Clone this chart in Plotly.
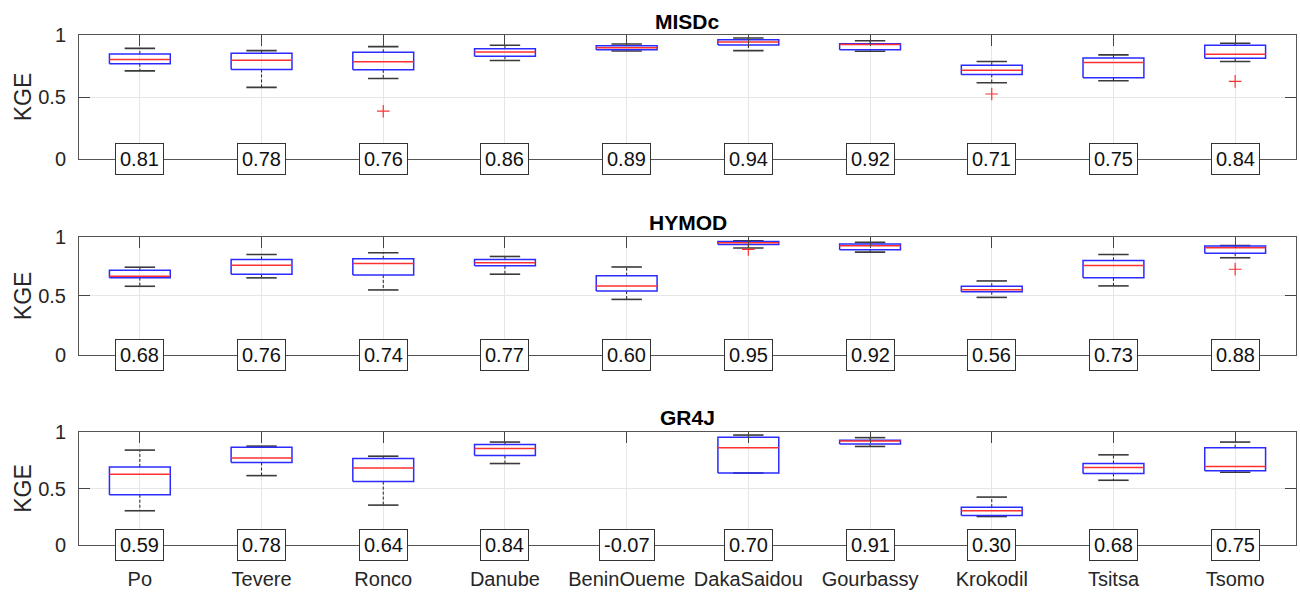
import plotly.graph_objects as go

cats = ["Po", "Tevere", "Ronco", "Danube", "BeninOueme", "DakaSaidou",
        "Gourbassy", "Krokodil", "Tsitsa", "Tsomo"]
models = ["MISDc", "HYMOD", "GR4J"]

# MISDc box statistics
misdc_upper = [0.890, 0.872, 0.904, 0.915, 0.925, 0.973, 0.952, 0.785, 0.838, 0.931]
misdc_q3    = [0.845, 0.851, 0.859, 0.888, 0.912, 0.960, 0.928, 0.755, 0.814, 0.915]
misdc_med   = [0.800, 0.795, 0.782, 0.862, 0.895, 0.941, 0.922, 0.715, 0.777, 0.843]
misdc_q1    = [0.767, 0.721, 0.718, 0.827, 0.880, 0.917, 0.880, 0.681, 0.654, 0.811]
misdc_lower = [0.710, 0.577, 0.649, 0.793, 0.869, 0.872, 0.867, 0.614, 0.630, 0.785]
misdc_out   = [[], [], [0.386], [], [], [], [], [0.524], [], [0.625]]
misdc_kge   = [0.81, 0.78, 0.76, 0.86, 0.89, 0.94, 0.92, 0.71, 0.75, 0.84]

# HYMOD box statistics
hymod_upper = [0.742, 0.850, 0.864, 0.833, 0.744, 0.966, 0.952, 0.626, 0.850, 0.926]
hymod_q3    = [0.717, 0.807, 0.813, 0.807, 0.670, 0.960, 0.938, 0.581, 0.799, 0.921]
hymod_med   = [0.666, 0.759, 0.773, 0.779, 0.583, 0.949, 0.924, 0.552, 0.756, 0.907]
hymod_q1    = [0.654, 0.683, 0.677, 0.754, 0.541, 0.935, 0.890, 0.535, 0.652, 0.861]
hymod_lower = [0.581, 0.652, 0.550, 0.683, 0.470, 0.904, 0.870, 0.487, 0.584, 0.822]
hymod_out   = [[], [], [], [], [], [0.893], [], [], [], [0.725]]
hymod_kge   = [0.68, 0.76, 0.74, 0.77, 0.60, 0.95, 0.92, 0.56, 0.73, 0.88]

# GR4J box statistics (BeninOueme lies below the plotted range)
gr4j_upper = [0.840, 0.875, 0.786, 0.911, None, 0.973, 0.950, 0.424, 0.798, 0.911]
gr4j_q3    = [0.691, 0.864, 0.766, 0.890, None, 0.953, 0.926, 0.335, 0.721, 0.861]
gr4j_med   = [0.626, 0.769, 0.682, 0.855, None, 0.861, 0.920, 0.303, 0.685, 0.694]
gr4j_q1    = [0.445, 0.730, 0.561, 0.792, None, 0.637, 0.893, 0.261, 0.632, 0.656]
gr4j_lower = [0.303, 0.614, 0.353, 0.721, None, 0.637, 0.872, 0.252, 0.573, 0.644]
gr4j_out   = [[], [], [], [], [], [], [], [], [], []]
gr4j_kge   = [0.59, 0.78, 0.64, 0.84, -0.07, 0.70, 0.91, 0.30, 0.68, 0.75]

panels = [
    (misdc_upper, misdc_q3, misdc_med, misdc_q1, misdc_lower, misdc_out, misdc_kge),
    (hymod_upper, hymod_q3, hymod_med, hymod_q1, hymod_lower, hymod_out, hymod_kge),
    (gr4j_upper, gr4j_q3, gr4j_med, gr4j_q1, gr4j_lower, gr4j_out, gr4j_kge),
]

H = 593.0
# panel pixel extents (top, bottom) of the axes
pix = [(34.7, 159.3), (236.7, 355.0), (432.0, 545.0)]
title_y = [21, 222, 417]

FONT = "Liberation Sans, Arial, sans-serif"
fig = go.Figure()

BW = 0.25   # half box width
CW = 0.125  # half cap width

for p, (up, q3, med, q1, lo, outs, kge) in enumerate(panels):
    xa = "x" if p == 0 else f"x{p+1}"
    ya = "y" if p == 0 else f"y{p+1}"
    bx, by, mx, my, wx, wy, cx, cy, ox, oy = [], [], [], [], [], [], [], [], [], []
    for i in range(len(cats)):
        pos = i + 1
        for o in outs[i]:
            ox.append(pos); oy.append(o)
        if med[i] is None:
            continue
        bx += [pos - BW, pos + BW, pos + BW, pos - BW, pos - BW, None]
        by += [q1[i], q1[i], q3[i], q3[i], q1[i], None]
        mx += [pos - BW, pos + BW, None]
        my += [med[i], med[i], None]
        wx += [pos, pos, None, pos, pos, None]
        wy += [q3[i], up[i], None, q1[i], lo[i], None]
        cx += [pos - CW, pos + CW, None, pos - CW, pos + CW, None]
        cy += [up[i], up[i], None, lo[i], lo[i], None]
    fig.add_trace(go.Scatter(x=wx, y=wy, mode="lines", xaxis=xa, yaxis=ya,
                             line=dict(color="#222222", width=1, dash="3px,2px"),
                             showlegend=False, hoverinfo="skip"))
    fig.add_trace(go.Scatter(x=cx, y=cy, mode="lines", xaxis=xa, yaxis=ya,
                             line=dict(color="#3a3a3a", width=1.6),
                             showlegend=False, hoverinfo="skip"))
    fig.add_trace(go.Scatter(x=bx, y=by, mode="lines", xaxis=xa, yaxis=ya,
                             line=dict(color="#2b2bff", width=1.5),
                             showlegend=False, hoverinfo="skip"))
    fig.add_trace(go.Scatter(x=mx, y=my, mode="lines", xaxis=xa, yaxis=ya,
                             line=dict(color="#ff3030", width=1.5),
                             showlegend=False, hoverinfo="skip"))
    fig.add_trace(go.Scatter(x=ox, y=oy, mode="markers", xaxis=xa, yaxis=ya,
                             marker=dict(symbol="cross-thin", size=9,
                                         line=dict(color="#ff3030", width=1.2)),
                             showlegend=False, hoverinfo="skip"))

    top, bot = pix[p]
    dom = [1 - bot / H, 1 - top / H]
    axis_common = dict(showline=True, linecolor="#555555", linewidth=1,
                       mirror="ticks", ticks="inside", ticklen=11,
                       tickcolor="#444444", showgrid=True, gridcolor="#e6e6e6",
                       gridwidth=1, zeroline=False)
    xkey = "xaxis" if p == 0 else f"xaxis{p+1}"
    ykey = "yaxis" if p == 0 else f"yaxis{p+1}"
    fig.update_layout(**{
        xkey: dict(axis_common, anchor=ya, domain=[0, 1], range=[0.5, 10.5],
                   tickvals=list(range(1, len(cats) + 1)), ticktext=cats,
                   showticklabels=(p == 2), ticklabelstandoff=16,
                   tickfont=dict(family=FONT, size=20, color="#262626")),
        ykey: dict(axis_common, anchor=xa, domain=dom, range=[0, 1],
                   tickvals=[0, 0.5, 1], ticktext=["0", "0.5", "1"],
                   ticklabelstandoff=8,
                   tickfont=dict(family=FONT, size=20, color="#262626"),
                   title=dict(text="KGE", standoff=0,
                              font=dict(family=FONT, size=23, color="#262626"))),
    })
    for i in range(len(cats)):
        fig.add_annotation(x=i + 1, y=0, xref=xa, yref=ya, text=f"{kge[i]:.2f}",
                           showarrow=False, xanchor="center", yanchor="middle",
                           bgcolor="white", bordercolor="#333333", borderwidth=1,
                           borderpad=4,
                           font=dict(family=FONT, size=20, color="#111111"))
    fig.add_annotation(x=0.5, y=1 - title_y[p] / H, xref="paper", yref="paper",
                       text=f"<b>{models[p]}</b>", showarrow=False,
                       xanchor="center", yanchor="middle",
                       font=dict(family=FONT, size=21, color="black"))

fig.update_layout(width=1300, height=593, plot_bgcolor="white",
                  paper_bgcolor="white",
                  margin=dict(l=79, r=4, t=0, b=0, autoexpand=False))
fig.write_html("out.html", config={"displayModeBar": False},
               post_script="document.body.style.margin='0';"
                           "document.body.style.overflow='hidden';")
